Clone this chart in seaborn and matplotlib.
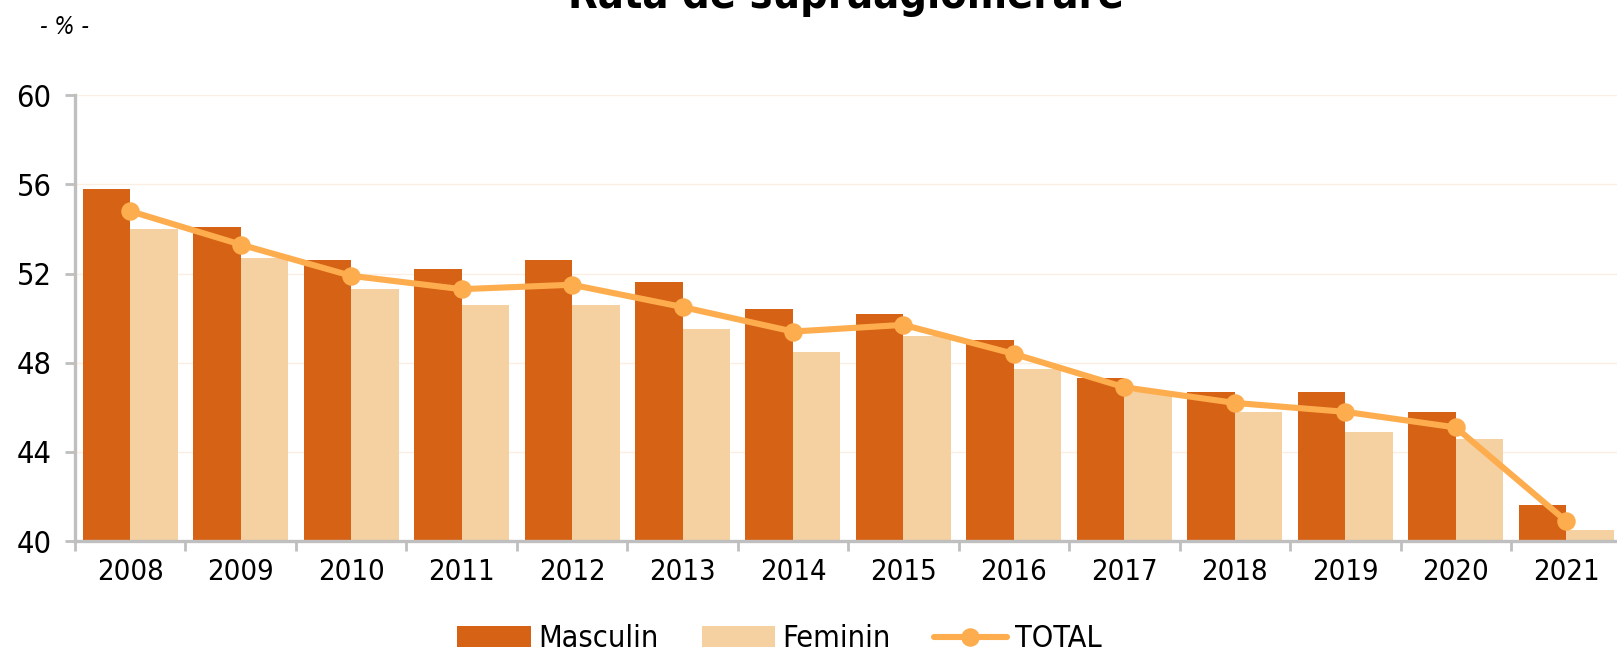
import matplotlib
matplotlib.use("Agg")
import matplotlib.pyplot as plt
import seaborn as sns
import pandas as pd
from matplotlib.ticker import FixedLocator

years = ["2008", "2009", "2010", "2011", "2012", "2013", "2014",
         "2015", "2016", "2017", "2018", "2019", "2020", "2021"]
masculin = [55.8, 54.1, 52.6, 52.2, 52.6, 51.6, 50.4, 50.2, 49.0, 47.3, 46.7, 46.7, 45.8, 41.6]
feminin = [54.0, 52.7, 51.3, 50.6, 50.6, 49.5, 48.5, 49.2, 47.7, 46.7, 45.8, 44.9, 44.6, 40.5]
total = [54.8, 53.3, 51.9, 51.3, 51.5, 50.5, 49.4, 49.7, 48.4, 46.9, 46.2, 45.8, 45.1, 40.9]
yticks = [40, 44, 48, 52, 56, 60]
title = "Rata de supraaglomerare"
unit = "- % -"

c_m = "#D66215"
c_f = "#F5D0A0"
c_t = "#FDAD4E"
c_axis = "#BFBFBF"

sns.set_theme(style="white")
FONT = ["DejaVu Sans"]
plt.rcParams["font.family"] = FONT
plt.rcParams["font.stretch"] = "condensed"
plt.rcParams["text.color"] = "black"

long = pd.DataFrame({
    "year": years * 2,
    "value": masculin + feminin,
    "sex": ["Masculin"] * len(years) + ["Feminin"] * len(years),
})
tot = pd.DataFrame({"year": years, "value": total})

fig = plt.figure(figsize=(16.17, 6.52), dpi=100)
ax = fig.add_axes([0.0464, 0.170, 0.9536, 0.684])

sns.barplot(data=long, x="year", y="value", hue="sex", order=years,
            hue_order=["Masculin", "Feminin"], palette=[c_m, c_f],
            width=0.86, saturation=1, errorbar=None, ax=ax, legend=True,
            linewidth=0)
sns.pointplot(data=tot, x="year", y="value", order=years, color=c_t,
              markers="o", linestyles="-", errorbar=None, ax=ax,
              markersize=10, linewidth=4.4, label="TOTAL")

ax.set_ylim(40, 60)
ax.set_xlim(-0.5, 13.46)
ax.set_yticks(yticks)
ax.set_xlabel("")
ax.set_ylabel("")
ax.yaxis.grid(True, color="#FBEEE2", linewidth=1)
ax.set_axisbelow(True)
for s in ["top", "right"]:
    ax.spines[s].set_visible(False)
for s in ["left", "bottom"]:
    ax.spines[s].set_color(c_axis)
    ax.spines[s].set_linewidth(2.4)
ax.xaxis.set_minor_locator(FixedLocator([i + 0.5 for i in range(-1, 14)]))
ax.tick_params(axis="x", which="major", length=0, labelsize=21, pad=12,
               labelcolor="black")
ax.tick_params(axis="x", which="minor", length=7, width=2, color=c_axis,
               direction="out", bottom=True)
ax.tick_params(axis="y", which="major", length=7, width=2, color=c_axis,
               labelsize=22, pad=10, left=True, labelcolor="black")

handles, labels = ax.get_legend_handles_labels()
if ax.get_legend() is not None:
    ax.get_legend().remove()
fig.legend(handles, labels, loc="center", bbox_to_anchor=(0.482, 0.02),
           ncol=3, frameon=False, fontsize=22, handlelength=2.4,
           handleheight=0.7, columnspacing=1.4, handletextpad=0.25)

fig.text(0.523, 1 - 8 / 652, title, ha="center", va="baseline",
         fontsize=31, fontweight="bold")
fig.text(0.040, 1 - 27 / 652, unit, ha="center", va="center",
         fontsize=17, style="italic")

fig.savefig("out.png", dpi=100)
